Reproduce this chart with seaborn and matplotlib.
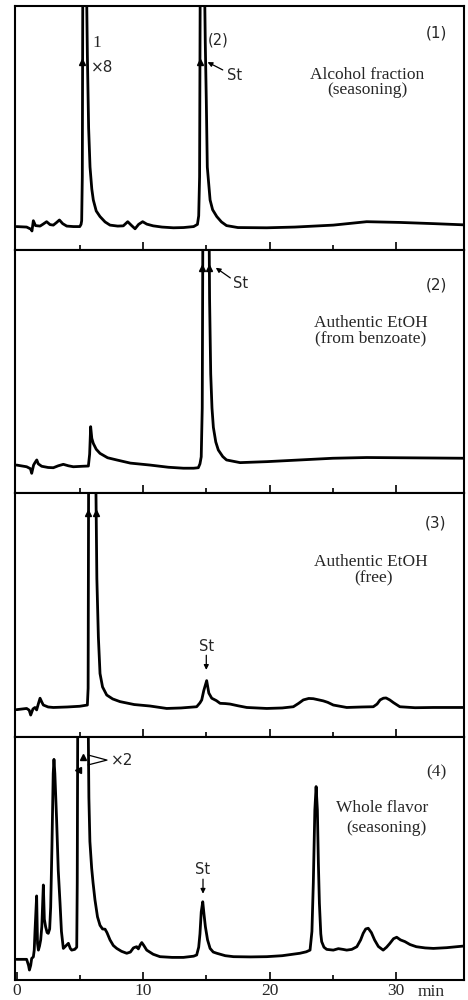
import numpy as np
import pandas as pd
import matplotlib
matplotlib.use("Agg")
import matplotlib.pyplot as plt
import seaborn as sns

# ---------------- data (time in min, signal in % of panel height) ----------------
t1 = [0.0, 0.8, 1.15, 1.22, 1.33, 1.5, 1.86, 2.1, 2.38, 2.65, 2.91, 3.15, 3.39, 3.65, 3.97, 4.5,
      5.0, 5.1, 5.15, 5.2, 5.24, 5.53, 5.6, 5.7, 5.81, 5.95, 6.07, 6.3, 6.6, 7.0, 7.39, 8.0,
      8.44, 8.79, 9.1, 9.37, 9.65, 9.97, 10.3, 10.8, 11.5, 12.4, 13.2, 14.0, 14.3, 14.4, 14.47,
      14.52, 14.86, 14.92, 15.0, 15.08, 15.3, 15.5, 15.83, 16.2, 16.6, 17.5, 19.78, 22.0, 25.04,
      27.68, 30.3, 33.0, 35.4]
s1 = [9.6, 9.4, 8.5, 7.8, 12.0, 10.0, 9.8, 10.6, 11.6, 10.4, 10.2, 11.2, 12.3, 10.8, 9.8, 9.6,
      9.6, 10.5, 12.0, 30.0, 110, 110, 80, 50, 34.0, 25.0, 20.5, 16.0, 13.7, 11.5, 10.2, 9.8,
      9.9, 11.6, 10.0, 8.7, 10.5, 11.6, 10.6, 9.9, 9.4, 9.1, 9.2, 9.6, 10.5, 14.0, 30.0,
      110, 110, 85, 61.5, 34.0, 20.5, 16.5, 13.7, 11.5, 10.0, 9.2, 9.1, 9.4, 10.2,
      11.6, 11.3, 10.8, 10.3]

t2 = [0.0, 0.8, 1.1, 1.2, 1.35, 1.46, 1.6, 1.72, 1.99, 2.5, 2.91, 3.3, 3.7, 4.1, 4.49, 5.2,
      5.68, 5.78, 5.86, 5.95, 6.07, 6.3, 6.6, 7.2, 7.92, 9.0, 10.55, 12.0, 13.19, 14.0, 14.37,
      14.5, 14.6, 14.68, 14.73, 15.22, 15.26, 15.35, 15.45, 15.56, 15.75, 15.95, 16.3, 16.6,
      17.67, 19.78, 22.4, 25.0, 27.68, 30.3, 33.0, 35.4]
s2 = [11.5, 10.8, 10.0, 8.1, 11.5, 12.5, 13.6, 12.0, 11.0, 10.5, 10.4, 11.2, 11.8, 11.2, 10.8, 11.0,
      11.1, 16.0, 27.3, 22.5, 20.4, 18.0, 16.3, 14.5, 13.6, 12.3, 11.5, 10.6, 10.2, 10.2, 10.4,
      12.0, 14.9, 35.0, 110, 110, 80, 49.0, 35.0, 27.0, 21.0, 17.7, 15.0, 13.6,
      12.5, 12.9, 13.6, 14.3, 14.6, 14.5, 14.4, 14.3]

t3 = [0.0, 0.8, 1.0, 1.12, 1.3, 1.46, 1.59, 1.72, 1.86, 2.0, 2.12, 2.5, 2.91, 4.0, 5.0, 5.6,
      5.66, 5.7, 6.26, 6.35, 6.47, 6.6, 6.8, 7.13, 7.6, 8.18, 9.3, 10.55, 11.87, 13.0, 14.24,
      14.5, 14.64, 14.8, 15.03, 15.2, 15.43, 15.8, 16.09, 16.5, 16.88, 17.5, 18.2, 19.78, 21.0,
      21.88, 22.3, 22.67, 23.1, 23.46, 23.9, 24.25, 24.6, 25.04, 26.1, 27.3, 28.2, 28.5, 28.74,
      29.0, 29.21, 29.5, 29.79, 30.3, 31.5, 32.95, 35.4]
s3 = [11.2, 11.7, 11.0, 9.0, 11.5, 12.1, 11.1, 13.5, 15.9, 14.3, 13.1, 12.3, 12.1, 12.3, 12.6, 13.1,
      20.0, 110, 110, 65.0, 41.0, 26.0, 20.5, 17.2, 15.6, 14.5, 13.3, 12.7, 11.7, 11.9, 12.4,
      14.0, 15.2, 19.0, 23.1, 18.0, 15.9, 14.9, 13.8, 13.7, 13.5, 12.8, 12.1, 11.7, 11.9,
      12.4, 13.8, 15.2, 15.8, 15.7, 15.2, 14.8, 14.2, 13.1, 12.1, 12.3, 12.4, 13.5, 15.2,
      15.9, 16.0, 15.2, 14.1, 12.4, 12.0, 12.1, 12.1]

t4 = [0.0, 0.8, 0.95, 1.02, 1.12, 1.2, 1.33, 1.4, 1.46, 1.59, 1.66, 1.73, 1.82, 1.91, 2.0, 2.12,
      2.2, 2.3, 2.42, 2.51, 2.62, 2.7, 2.8, 2.9, 2.96, 3.03, 3.17, 3.3, 3.44, 3.55, 3.7, 3.89,
      4.1, 4.25, 4.36, 4.6, 4.76, 4.8, 4.84, 5.66, 5.72, 5.8, 5.94, 6.05, 6.2, 6.4, 6.6, 6.8,
      7.0, 7.15, 7.39, 7.65, 7.92, 8.3, 8.71, 9.0, 9.24, 9.38, 9.5, 9.63, 9.78, 9.9, 10.05,
      10.29, 10.8, 11.34, 12.3, 13.19, 14.0, 14.24, 14.4, 14.5, 14.6, 14.72, 14.82, 14.93,
      15.1, 15.3, 15.55, 15.83, 16.5, 17.15, 18.5, 19.78, 21.0, 22.4, 22.9, 23.2, 23.35, 23.46,
      23.58, 23.68, 23.78, 23.86, 23.94, 24.05, 24.12, 24.3, 24.52, 25.04, 25.44, 25.8, 26.1,
      26.5, 26.9, 27.2, 27.4, 27.6, 27.8, 28.05, 28.3, 28.6, 28.98, 29.25, 29.5, 29.8, 30.05,
      30.35, 30.7, 31.1, 31.6, 32.3, 32.95, 34.0, 35.4]
s4 = [8.5, 8.5, 6.0, 4.1, 6.0, 8.9, 9.5, 12.3, 20.0, 34.6, 15.0, 12.3, 14.0, 16.5, 22.0, 39.1,
      25.0, 21.9, 19.5, 19.2, 21.0, 30.0, 55.0, 85.0, 90.8, 85.0, 65.8, 45.0, 31.6, 20.0, 13.0, 14.0,
      15.1, 13.0, 12.3, 12.6, 13.5, 40.0, 110, 110, 75.0, 57.0, 46.0, 40.0, 33.0, 26.0, 22.5, 21.0,
      20.9, 19.5, 16.5, 14.2, 13.0, 11.8, 11.0, 11.5, 13.2, 13.5, 13.7, 12.8, 14.5, 15.4, 14.3,
      12.3, 10.6, 9.6, 9.3, 9.3, 9.8, 10.3, 13.5, 19.0, 28.0, 32.2, 27.0, 21.9,
      16.5, 13.0, 11.5, 11.0, 10.0, 9.6, 9.5, 9.6, 10.0, 11.0, 11.6, 12.3, 20.0, 40.0,
      70.0, 79.6, 70.0, 48.0, 31.6, 19.0, 15.8, 13.5, 12.6, 12.3, 12.9, 12.6, 12.3,
      12.6, 13.7, 16.5, 19.2, 21.0, 21.3, 19.5, 16.5, 13.8, 12.3, 13.5, 15.0, 17.0, 17.6,
      16.5, 15.8, 14.6, 13.7, 13.2, 13.0, 13.3, 14.0]

panel_ids = ["(1)", "(2)", "(3)", "(4)"]
titles1 = ["Alcohol fraction", "Authentic EtOH", "Authentic EtOH", "Whole flavor"]
titles2 = ["(seasoning)", "(from benzoate)", "(free)", "(seasoning)"]
tick_labels = ["0", "10", "20", "30"]

# ---------------- figure ----------------
sns.set_style("white")
plt.rcParams["font.family"] = ["DejaVu Sans"]
SERIF = ["Liberation Serif", "DejaVu Serif"]

fig = plt.figure(figsize=(4.68, 10.0), dpi=100)
edges = [6, 250, 493, 737, 980]
left = 15 / 468
width = (464 - 15) / 468
XMIN, XMAX = -0.12, 35.37

series = [(t1, s1), (t2, s2), (t3, s3), (t4, s4)]
axes = []
for i, (t, s) in enumerate(series):
    top, bot = edges[i], edges[i + 1]
    ax = fig.add_axes([left, 1 - bot / 1000, width, (bot - top) / 1000])
    df = pd.DataFrame({"time": t, "signal": s})
    sns.lineplot(data=df, x="time", y="signal", ax=ax, color="black", lw=2.0,
                 sort=False, estimator=None)
    ax.set_xlim(XMIN, XMAX)
    ax.set_ylim(0, 100)
    ax.set_xlabel("")
    ax.set_ylabel("")
    ax.set_yticks([])
    ax.set_xticks([10, 20, 30])
    ax.set_xticks([5, 15, 25], minor=True)
    ax.tick_params(axis="x", which="major", direction="in", length=5.5, width=1.2,
                   color="black", bottom=True)
    ax.tick_params(axis="x", which="minor", direction="in", length=3.5, width=1.2,
                   color="black", bottom=True)
    for sp in ax.spines.values():
        sp.set_visible(True)
        sp.set_color("black")
        sp.set_linewidth(1.5)
    ax.set_facecolor("white")
    # panel id
    ax.text(34.0, [89, 85.6, 87.7, 85.6][i], panel_ids[i], ha="right", va="center",
            fontsize=12.5 if i == 3 else 11, family=SERIF if i == 3 else ["DejaVu Sans"])
    # titles
    ax.text([27.7, 28.0, 28.0, 28.9][i], [71.7, 70.0, 71.7, 70.8][i], titles1[i],
            ha="center", va="center", fontsize=12.5, family=SERIF)
    ax.text([27.7, 28.0, 28.2, 29.2][i], [65.4, 63.8, 65.2, 62.6][i], titles2[i],
            ha="center", va="center", fontsize=12.5, family=SERIF)
    axes.append(ax)

# bottom axis labels
axb = axes[3]
axb.set_xticks([0, 10, 20, 30])
axb.set_xticklabels(tick_labels, family=SERIF, fontsize=12.5)
axb.tick_params(axis="x", which="major", pad=2)
axb.text(31.7, -0.05, "min", transform=axb.get_xaxis_transform(), ha="left",
         va="center", fontsize=12.5, family=SERIF)
for ax in axes[:3]:
    ax.set_xticklabels([])

arrow = dict(arrowstyle="-|>", color="black", lw=0.9, mutation_scale=7,
             shrinkA=0, shrinkB=0)
mk = dict(marker="^", color="black", ms=4.5, ls="none")

# panel 1 annotations
a1 = axes[0]
a1.plot([5.2, 14.5], [77, 77], **mk)
a1.text(6.0, 84.8, "1", ha="left", va="center", fontsize=12.5, family=SERIF)
a1.text(5.85, 74.6, "\u00d78", ha="left", va="center", fontsize=11)
a1.text(15.1, 86.0, "(2)", ha="left", va="center", fontsize=10.5)
a1.text(16.6, 71.7, "St", ha="left", va="center", fontsize=10.5)
a1.annotate("", xy=(15.1, 77.0), xytext=(16.3, 73.8), arrowprops=arrow)

# panel 2 annotations
a2 = axes[1]
a2.plot([14.65, 15.22], [92.6, 92.6], **mk)
a2.text(17.1, 86.2, "St", ha="left", va="center", fontsize=10.5)
a2.annotate("", xy=(15.75, 92.7), xytext=(16.9, 88.5), arrowprops=arrow)

# panel 3 annotations
a3 = axes[2]
a3.plot([5.68, 6.26], [91.8, 91.8], **mk)
a3.text(15.0, 36.9, "St", ha="center", va="center", fontsize=10.5)
a3.annotate("", xy=(15.0, 27.5), xytext=(15.0, 33.5), arrowprops=arrow)

# panel 4 annotations
a4 = axes[3]
a4.plot([5.28], [91.8], **mk)
a4.plot([4.89], [86.4], marker="<", color="black", ms=4.5, ls="none")
a4.plot([5.65, 7.15, 5.65], [92.6, 90.5, 88.5], color="black", lw=0.9)
a4.text(7.45, 90.5, "\u00d72", ha="left", va="center", fontsize=11)
a4.text(14.74, 45.3, "St", ha="center", va="center", fontsize=10.5)
a4.annotate("", xy=(14.74, 35.5), xytext=(14.74, 41.5), arrowprops=arrow)

fig.savefig("out.png", dpi=100, facecolor="white")
